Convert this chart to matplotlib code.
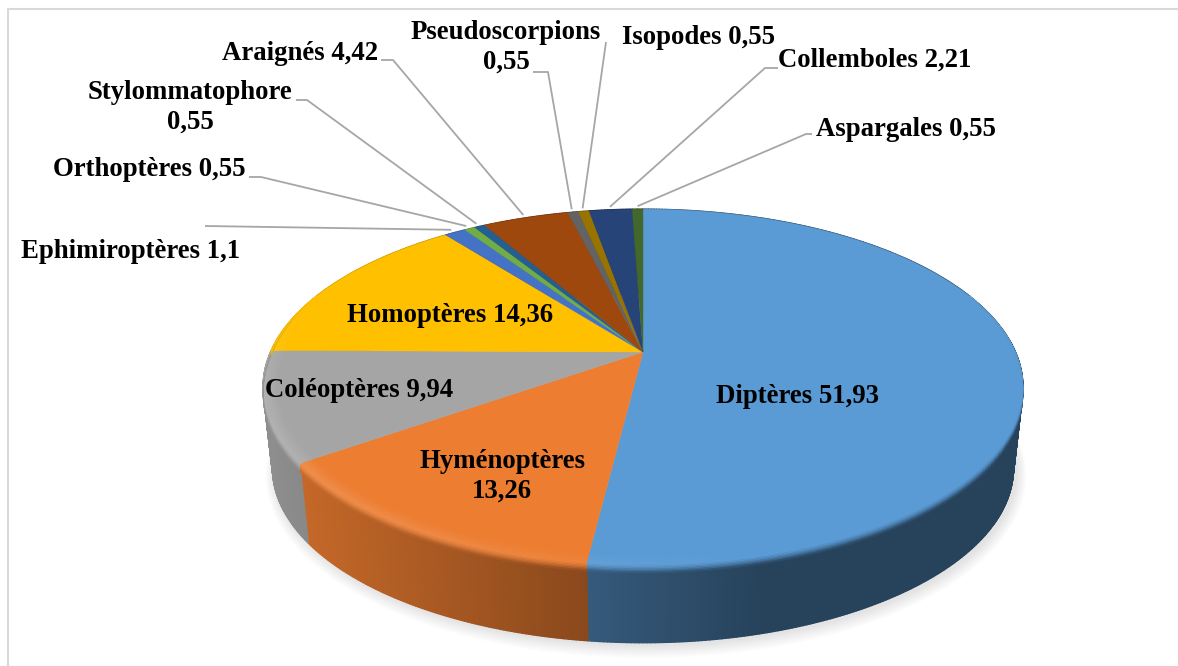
import numpy as np
import matplotlib
matplotlib.use('Agg')
import matplotlib.pyplot as plt
from matplotlib.collections import PolyCollection
from matplotlib.colors import to_rgb

categories = ['Diptères', 'Hyménoptères', 'Coléoptères', 'Homoptères', 'Ephimiroptères', 'Orthoptères',
              'Stylommatophore', 'Araignés', 'Pseudoscorpions', 'Isopodes', 'Collemboles', 'Aspargales']
values = [51.93, 13.26, 9.94, 14.36, 1.1, 0.55, 0.55, 4.42, 0.55, 0.55, 2.21, 0.55]
value_labels = ['51,93', '13,26', '9,94', '14,36', '1,1', '0,55', '0,55', '4,42', '0,55', '0,55', '2,21', '0,55']
colors = ['#5B9BD5', '#ED7D31', '#A5A5A5', '#FFC000', '#4472C4', '#70AD47',
          '#255E91', '#9E480E', '#636363', '#997300', '#264478', '#43682B']

# label centre in pixels, and whether the value goes on its own line
label_pos = [(797, 396.5), (502, 476.5), (359, 390.5), (450, 315), (131, 251), (149, 170),
             (190, 107), (300, 54), (506, 47), (698, 37), (875, 60), (906, 130)]
two_lines = [False, True, False, False, False, False, True, False, True, False, False, False]
# leader line start and knee, in pixels (first four slices have none)
leader_knees = {4: [(205, 226)],
                5: [(249, 177), (261, 177)],
                6: [(296, 100), (307, 100)],
                7: [(381, 60), (393, 60)],
                8: [(533, 72), (548, 72)],
                9: [(606, 42)],
                10: [(778, 68), (765, 68)],
                11: [(812, 134), (806, 134)]}

# pie geometry in pixels
CX, CY = 643, 352
A, B, K = 372.5, 171.0, 0.197
DEPTH = 82
LOW_SCALE_X, LOW_SCALE_Y = 0.975, 0.98
BEVEL_DROP = 8


def top_xy(ang, r=1.0):
    # perspective view of the disc, ang is clockwise from 12 o'clock
    u = r * np.sin(ang)
    v = r * np.cos(ang)
    w = 1 + K * v
    return A * u / w, B * v / w


def to_px(x, y):
    return CX + x, CY - y


def low_xy(ang):
    x, y = top_xy(ang)
    return x * LOW_SCALE_X, y * LOW_SCALE_Y - DEPTH


def mix(c1, c2, t):
    c1, c2 = np.array(c1), np.array(c2)
    return tuple(np.clip(c1 * (1 - t) + c2 * t, 0, 1))


def wall_color(base, xpx):
    # wall gets darker going left to right, flat after the middle
    t = np.clip((xpx - 264) / (760 - 264), 0, 1)
    return mix(np.array(base) * 0.86, np.array(base) * 0.43, t)


def bevel_pt(ang, s, strength):
    # s runs over the band: first inward of the rim, then down onto the wall
    r = 0.96 + 0.04 * min(s / 0.6, 1)
    drop = max(0, (s - 0.6) / 0.4) * BEVEL_DROP * strength
    x, y = top_xy(ang, r)
    return to_px(x, y - drop)


fig = plt.figure(figsize=(11.78, 6.66), dpi=100)
ax = fig.add_axes([0, 0, 1, 1])
ax.set_xlim(0, 1178)
ax.set_ylim(666, 0)
ax.axis('off')

# chart frame, the picture is cut before the right and bottom sides
ax.plot([8, 8, 1178], [665, 9, 9], color='#D9D9D9', lw=1.5, zorder=0)

fractions = np.array(values) / sum(values)
edges = np.concatenate([[0], np.cumsum(fractions)]) * 2 * np.pi

# soft shadow under the pie
full = np.linspace(0, 2 * np.pi, 361)
lx, ly = low_xy(full)
for grow in np.linspace(14, 1, 14):
    px, py = to_px(lx * (1 + grow / 520), ly * (1 + grow / 300) - 2)
    ax.fill(px + 3, py, color='black', alpha=0.008, lw=0, zorder=1)

# side wall, only front part can be seen
quads, quad_cols = [], []
for i in range(len(values)):
    n = max(2, int(np.degrees(edges[i + 1] - edges[i]) * 2))
    angs = np.linspace(edges[i], edges[i + 1], n)
    for a0, a1 in zip(angs[:-1], angs[1:]):
        xt0, yt0 = to_px(*top_xy(a0))
        xt1, yt1 = to_px(*top_xy(a1))
        xl0, yl0 = to_px(*low_xy(a0))
        xl1, yl1 = to_px(*low_xy(a1))
        quads.append([(xt0, yt0), (xt1, yt1), (xl1, yl1), (xl0, yl0)])
        quad_cols.append(wall_color(to_rgb(colors[i]), (xt0 + xt1) / 2))
ax.add_collection(PolyCollection(quads, facecolors=quad_cols, edgecolors=quad_cols, linewidths=1.0, zorder=2))

# top face
for i in range(len(values)):
    angs = np.linspace(edges[i], edges[i + 1], 200)
    x, y = top_xy(angs)
    px, py = to_px(np.r_[0, x], np.r_[0, y])
    ax.fill(px, py, color=colors[i], lw=0.3, zorder=3)

# bevel along the rim: light on the left and front, dark on the right
steps = np.linspace(0, 1, 15)
rim_polys, rim_cols = [], []
for i in range(len(values)):
    base = to_rgb(colors[i])
    n = max(2, int(np.degrees(edges[i + 1] - edges[i]) * 2))
    angs = np.linspace(edges[i], edges[i + 1], n)
    for a0, a1 in zip(angs[:-1], angs[1:]):
        mid = (a0 + a1) / 2
        # fades out towards the back of the disc
        strength = np.clip((0.35 - np.cos(mid)) / 0.55, 0, 1)
        if strength == 0:
            continue
        xm = to_px(*top_xy(mid))[0]
        light = np.clip((760 - xm) / 500, 0, 1)
        wall = wall_color(base, xm)
        hi = mix(base, (1, 1, 1), 0.15 * light)
        for s0, s1 in zip(steps[:-1], steps[1:]):
            s = 0.5 * (s0 + s1)
            if s < 0.6:
                col = mix(base, hi, s / 0.6)
            else:
                col = mix(hi, wall, ((s - 0.6) / 0.4) ** 1.5)
            col = mix(base, col, strength)
            rim_polys.append([bevel_pt(a0, s0, strength), bevel_pt(a1, s0, strength),
                              bevel_pt(a1, s1, strength), bevel_pt(a0, s1, strength)])
            rim_cols.append(col)
ax.add_collection(PolyCollection(rim_polys, facecolors=rim_cols, edgecolors=rim_cols, linewidths=0.4, zorder=4))

# leaders, ends come from the slice mid angle
mids = (edges[:-1] + edges[1:]) / 2
for i, knees in leader_knees.items():
    ex, ey = to_px(*top_xy(mids[i], 1.025))
    xs = [p[0] for p in knees] + [ex]
    ys = [p[1] for p in knees] + [ey]
    ax.plot(xs, ys, color='#A6A6A6', lw=1.3, zorder=5, solid_capstyle='butt')

# labels
for i, name in enumerate(categories):
    sep = '\n' if two_lines[i] else ' '
    ax.text(label_pos[i][0], label_pos[i][1], name + sep + value_labels[i], ha='center', va='center',
            family='Liberation Serif', weight='bold', fontsize=19.3, color='black', linespacing=1.25, zorder=6)

fig.savefig('out.png', dpi=100)
